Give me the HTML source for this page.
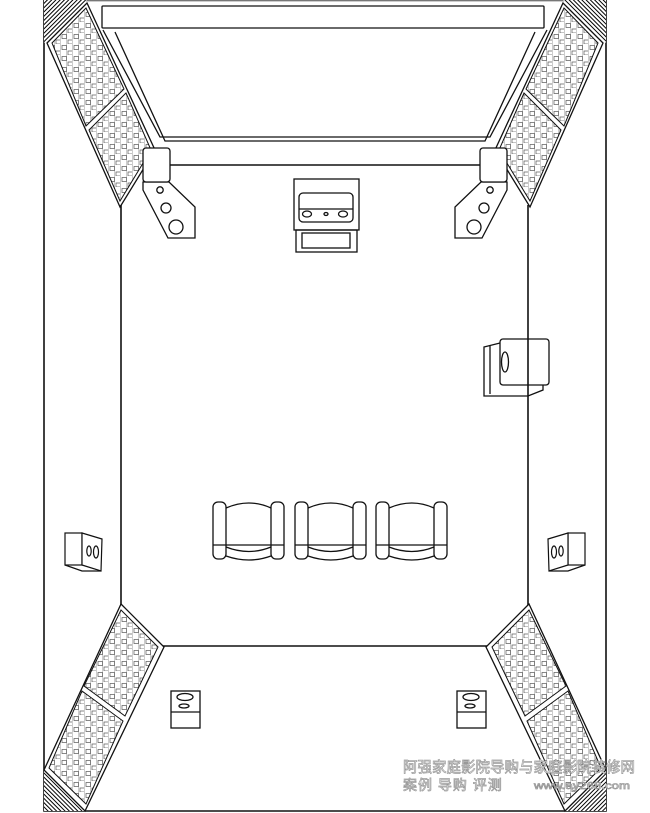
<!DOCTYPE html>
<html><head><meta charset="utf-8"><style>
html,body{margin:0;padding:0;background:#fff;}
svg{display:block;}
.t{font-family:"Liberation Sans","Noto Sans CJK SC",sans-serif;fill:#fff;stroke:#999;stroke-width:0.7;}
</style></head><body>
<svg width="650" height="813" viewBox="0 0 650 813" xmlns="http://www.w3.org/2000/svg">
<defs>
<pattern id="sq" width="12" height="11" patternUnits="userSpaceOnUse">
<rect width="12" height="11" fill="#fff"/>
<line x1="0.5" y1="0" x2="0.5" y2="11" stroke="#aaa" stroke-width="0.6"/>
<line x1="6.5" y1="0" x2="6.5" y2="11" stroke="#aaa" stroke-width="0.6"/>
<rect x="2" y="1.5" width="4.5" height="4" fill="#fff" stroke="#555" stroke-width="0.7"/>
<rect x="8" y="7" width="4.5" height="4" fill="#fff" stroke="#555" stroke-width="0.7"/>
</pattern>
<pattern id="hat" width="3" height="3" patternUnits="userSpaceOnUse" patternTransform="rotate(-45)">
<rect width="3" height="3" fill="#fff"/>
<line x1="0" y1="0" x2="0" y2="3" stroke="#000" stroke-width="2"/>
</pattern>
<pattern id="hat2" width="3" height="3" patternUnits="userSpaceOnUse" patternTransform="rotate(45)">
<rect width="3" height="3" fill="#fff"/>
<line x1="0" y1="0" x2="0" y2="3" stroke="#000" stroke-width="2"/>
</pattern>
</defs>
<g fill="none" stroke="#111" stroke-width="1.3">
<polyline points="44,0 44,811 606,811 606,0" stroke-width="1.6"/>
<line x1="44" y1="0.7" x2="606" y2="0.7" stroke="#777"/>

<polygon points="44,0 87,0 44,43" fill="url(#hat2)" stroke="none"/>
<polygon points="606,0 563,0 606,43" fill="url(#hat)" stroke="none"/>
<polygon points="44,770 44,811 85,811" fill="url(#hat)" stroke="none"/>
<polygon points="606,770 606,811 565,811" fill="url(#hat2)" stroke="none"/>

<polygon points="47,43 87,3 155,150 120,207" fill="#fff"/>
<polygon points="52,43 86,8 124,89 86,126" fill="url(#sq)" stroke-width="1"/>
<polygon points="89,130 126,93 151,150 120,201" fill="url(#sq)" stroke-width="1"/>
<polygon points="603,43 563,3 495,150 530,207" fill="#fff"/>
<polygon points="598,43 564,8 526,89 564,126" fill="url(#sq)" stroke-width="1"/>
<polygon points="561,130 524,93 499,150 530,201" fill="url(#sq)" stroke-width="1"/>
<polygon points="121,604 164,647 85,811 44,770" fill="#fff"/>
<polygon points="121,610 158,647 125,716 84,686" fill="url(#sq)" stroke-width="1"/>
<polygon points="82,691 123,721 86,804 49,768" fill="url(#sq)" stroke-width="1"/>
<polygon points="529,604 486,647 565,811 606,770" fill="#fff"/>
<polygon points="529,610 492,647 525,716 566,686" fill="url(#sq)" stroke-width="1"/>
<polygon points="568,691 527,721 564,804 601,768" fill="url(#sq)" stroke-width="1"/>

<rect x="102" y="6" width="442" height="22" rx="1"/>
<polyline points="103,30 160,137 490,137 547,30"/>
<polyline points="115,32 165,141 485,141 535,32"/>

<line x1="170" y1="165" x2="480" y2="165" stroke-width="1.6"/>
<line x1="121" y1="205" x2="121" y2="605" stroke-width="1.6"/>
<line x1="528" y1="205" x2="528" y2="605" stroke-width="1.6"/>
<line x1="163" y1="646" x2="487" y2="646" stroke-width="1.6"/>

<g fill="#fff">
<polygon points="143,182 169,182 195,207 195,238 168,238 143,190"/>
<rect x="143" y="148" width="27" height="34" rx="3"/>
<circle cx="160" cy="190" r="3.2"/><circle cx="166" cy="208" r="5"/><circle cx="176" cy="227" r="7"/>
<polygon points="507,182 481,182 455,207 455,238 482,238 507,190"/>
<rect x="480" y="148" width="27" height="34" rx="3"/>
<circle cx="490" cy="190" r="3.2"/><circle cx="484" cy="208" r="5"/><circle cx="474" cy="227" r="7"/>
</g>

<rect x="294" y="179" width="65" height="51"/>
<rect x="299" y="193" width="54" height="29" rx="4"/>
<line x1="299" y1="209" x2="353" y2="209"/>
<ellipse cx="307" cy="214" rx="4.5" ry="3"/><ellipse cx="326" cy="214" rx="2" ry="1.5"/><ellipse cx="343" cy="214" rx="4.5" ry="3"/>
<rect x="296" y="230" width="61" height="22"/>
<rect x="302" y="233" width="48" height="15"/>

<g fill="#fff">
<polygon points="484,347 500,343 543,343 543,390 528,396 484,396"/>
<line x1="490" y1="345" x2="490" y2="394"/>
<rect x="500" y="339" width="49" height="46" rx="3"/>
<ellipse cx="505" cy="362" rx="3.5" ry="10"/>
<line x1="528" y1="339" x2="528" y2="396" stroke-width="1.6"/>
</g>

<g id="ch">
<rect x="213" y="502" width="13" height="57" rx="5"/>
<rect x="271" y="502" width="13" height="57" rx="5"/>
<path d="M226,508 Q249,498 271,508"/>
<line x1="213" y1="545" x2="284" y2="545"/>
<path d="M226,547 Q249,556 271,547"/>
<path d="M226,556 Q249,564 271,556"/>
</g>
<use href="#ch" x="82"/>
<use href="#ch" x="163"/>

<g fill="#fff" stroke-width="1.2">
<rect x="65" y="533" width="17" height="32"/>
<polygon points="82,533 102,539 101,571 82,565"/>
<polyline points="65,565 82,571 101,571"/>
<ellipse cx="89" cy="551" rx="2.2" ry="5"/><ellipse cx="96" cy="552" rx="2.5" ry="6"/>
<rect x="568" y="533" width="17" height="32"/>
<polygon points="568,533 548,539 549,571 568,565"/>
<polyline points="585,565 568,571 549,571"/>
<ellipse cx="561" cy="551" rx="2.2" ry="5"/><ellipse cx="554" cy="552" rx="2.5" ry="6"/>
</g>

<g fill="#fff">
<rect x="171" y="691" width="29" height="37"/><line x1="171" y1="712" x2="200" y2="712"/>
<ellipse cx="185" cy="697" rx="8" ry="3.5"/><ellipse cx="184" cy="706" rx="5" ry="2"/>
<rect x="457" y="691" width="29" height="37"/><line x1="457" y1="712" x2="486" y2="712"/>
<ellipse cx="471" cy="697" rx="8" ry="3.5"/><ellipse cx="470" cy="706" rx="5" ry="2"/>
</g>
</g>

<text class="t" x="403" y="772" font-size="15" textLength="232" lengthAdjust="spacingAndGlyphs">阿强家庭影院导购与家庭影院装修网</text>
<text class="t" x="403" y="790" font-size="14" letter-spacing="1">案例 导购 评测</text>
<text class="t" x="534" y="789" font-size="10" textLength="96" lengthAdjust="spacingAndGlyphs">www.ay268.com</text>
</svg>
</body></html>
